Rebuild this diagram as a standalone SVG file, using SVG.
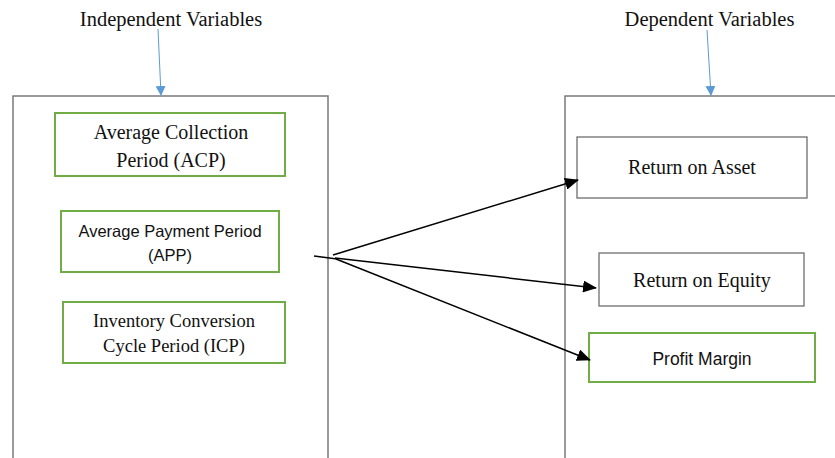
<svg xmlns="http://www.w3.org/2000/svg" width="835" height="458" viewBox="0 0 835 458">
  <style>
    .serif { font-family: "Liberation Serif", "Times New Roman", serif; fill: #111; }
    .sans { font-family: "Liberation Sans", Arial, sans-serif; fill: #111; }
    .frame { fill: none; stroke: #7a7a7a; stroke-width: 1.5; }
    .green { fill: #fff; stroke: #70ad47; stroke-width: 2; }
    .gray { fill: #fff; stroke: #6e6e6e; stroke-width: 1.3; }
    .blue { stroke: #5b9bd5; stroke-width: 1; fill: none; }
    .link { stroke: #000; stroke-width: 1.5; fill: none; }
  </style>
  <defs>
    <marker id="blueHead" markerWidth="10" markerHeight="10" refX="9" refY="5" orient="auto" markerUnits="userSpaceOnUse">
      <path d="M0,0 L10,5 L0,10 z" fill="#5b9bd5"/>
    </marker>
    <marker id="blackHead" markerWidth="14" markerHeight="12" refX="13" refY="6" orient="auto" markerUnits="userSpaceOnUse">
      <path d="M0,0 L14,6 L0,12 z" fill="#000"/>
    </marker>
  </defs>
  <rect width="835" height="458" fill="#fff"/>

  <!-- column headings -->
  <g id="heading-independent">
    <text class="serif" x="171" y="26" font-size="20.5" text-anchor="middle">Independent Variables</text>
  </g>
  <g id="heading-dependent">
    <text class="serif" x="709.5" y="26" font-size="20.5" text-anchor="middle">Dependent Variables</text>
  </g>

  <!-- open frames (no bottom edge) -->
  <g id="frame-independent">
    <path class="frame" d="M13,460 V96 H328 V460"/>
  </g>
  <g id="frame-dependent">
    <path class="frame" d="M565,460 V96 H840"/>
  </g>

  <g id="acp">
    <rect class="green" x="55" y="113" width="230" height="63"/>
    <text class="serif" x="171" y="139" font-size="20" text-anchor="middle">Average Collection</text>
    <text class="serif" x="171" y="167" font-size="20" text-anchor="middle">Period (ACP)</text>
  </g>
  <g id="app">
    <rect class="green" x="61" y="211" width="218" height="61"/>
    <text class="sans" x="170" y="237" font-size="16.5" text-anchor="middle">Average Payment Period</text>
    <text class="sans" x="170" y="261" font-size="16.5" text-anchor="middle">(APP)</text>
  </g>
  <g id="icp">
    <rect class="green" x="63" y="302" width="222" height="61"/>
    <text class="serif" x="174" y="327" font-size="18.5" text-anchor="middle">Inventory Conversion</text>
    <text class="serif" x="174" y="352" font-size="18.5" text-anchor="middle">Cycle Period (ICP)</text>
  </g>

  <g id="roa">
    <rect class="gray" x="577" y="137" width="230" height="61"/>
    <text class="serif" x="692" y="174" font-size="20" text-anchor="middle">Return on Asset</text>
  </g>
  <g id="roe">
    <rect class="gray" x="599" y="253" width="205" height="53"/>
    <text class="serif" x="702" y="287" font-size="20" text-anchor="middle">Return on Equity</text>
  </g>
  <g id="profit-margin">
    <rect class="green" x="589" y="333" width="226" height="49"/>
    <text class="sans" x="702" y="365" font-size="17.5" text-anchor="middle">Profit Margin</text>
  </g>

  <!-- connectors -->
  <g id="connectors">
    <line class="blue" x1="158" y1="29" x2="161" y2="95" marker-end="url(#blueHead)"/>
    <line class="blue" x1="707" y1="30" x2="711" y2="95" marker-end="url(#blueHead)"/>
    <line class="link" x1="314" y1="256" x2="337" y2="259"/>
    <line class="link" x1="333" y1="255" x2="578" y2="180" marker-end="url(#blackHead)"/>
    <line class="link" x1="335" y1="258" x2="596" y2="288" marker-end="url(#blackHead)"/>
    <line class="link" x1="336" y1="259" x2="590" y2="360" marker-end="url(#blackHead)"/>
  </g>
</svg>
